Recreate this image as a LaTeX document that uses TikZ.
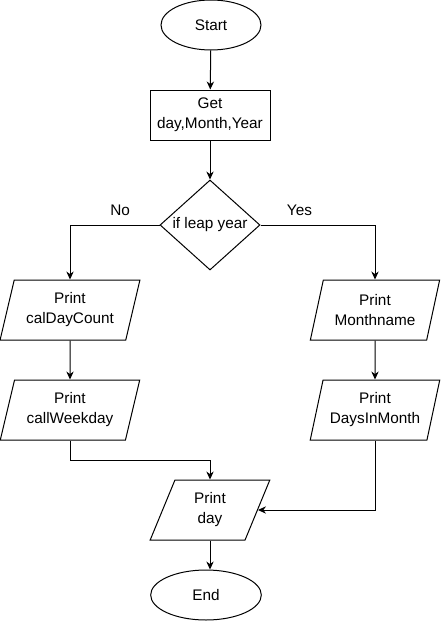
\documentclass[tikz,border=0pt]{standalone}
\usepackage{fontspec}
\setmainfont{Liberation Sans}
\usetikzlibrary{shapes.geometric,arrows.meta}
\begin{document}
\begin{tikzpicture}[x=0.75pt, y=-0.75pt, line width=0.75pt, >={Stealth[length=6pt,width=5.5pt]}, font=\fontsize{11.5}{15}\selectfont]
	\tikzstyle{term} = [ellipse, draw=black, minimum height=37.5pt, inner sep=0pt]
	\tikzstyle{proc} = [rectangle, draw=black, minimum width=90pt, minimum height=37.5pt, align=center]
	\tikzstyle{dec} = [diamond, draw=black, minimum width=75pt, minimum height=67.5pt, aspect=1.1, inner sep=0pt]
	\tikzstyle{io} = [trapezium, trapezium left angle=72, trapezium right angle=108, trapezium stretches=true, draw=black, minimum height=45pt, align=center, inner sep=0pt]
	\useasboundingbox (0,0) rectangle (441,621);
	\node (start) [term, minimum width=75pt] at (211,25) {Start};
	\node (get) [proc] at (210,115) {Get\\day,Month,Year};
	\node (leap) [dec] at (210,225) {if leap year};
	\node (cal) [io, minimum width=105pt] at (70,310) {Print\\calDayCount};
	\node (week) [io, minimum width=105pt] at (70,410) {Print\\callWeekday};
	\node (month) [io, minimum width=97.5pt] at (375,310) {Print\\Monthname};
	\node (dim) [io, minimum width=97.5pt] at (375,410) {Print\\DaysInMonth};
	\node (pday) [io, minimum width=90pt] at (210,510) {Print\\day};
	\node (stop) [term, minimum width=83pt] at (206,595) {End};
	\draw[->] (start) -- (get);
	\draw[->] (get) -- (leap);
	\draw[->] (leap.west) -| node[above, pos=0.22, yshift=3pt] {No} (cal);
	\draw[->] (leap.east) -| node[above, pos=0.17, yshift=3pt] {Yes} (month);
	\draw[->] (cal) -- (week);
	\draw[->] (month) -- (dim);
	\draw[->] (week.south) -- ++(0,20) -| (pday);
	\draw[->] (dim.south) |- (pday);
	\draw[->] (pday.south) -- (pday.south |- stop.north);
\end{tikzpicture}
\end{document}
